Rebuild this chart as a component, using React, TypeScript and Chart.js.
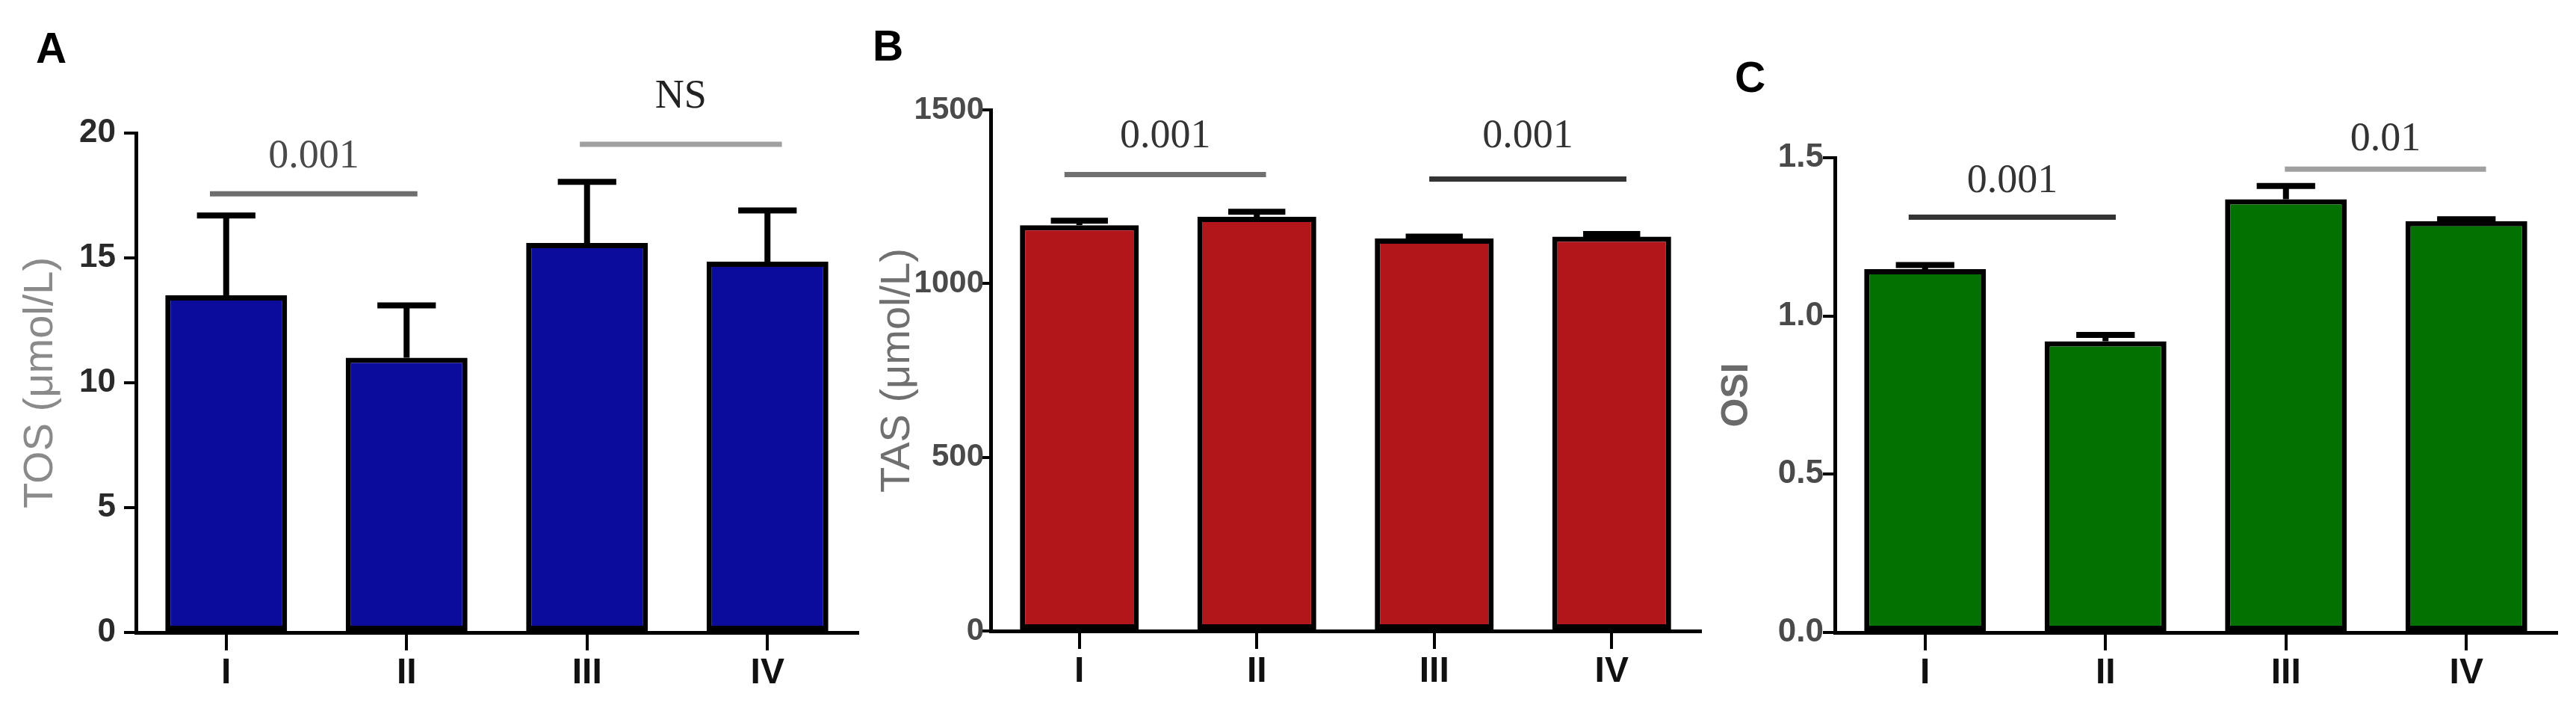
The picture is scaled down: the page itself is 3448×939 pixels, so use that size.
import React, { useEffect, useRef } from 'react';
import { Chart, registerables } from 'chart.js';

Chart.register(...registerables);

// ---------------- data ----------------
const categories = ['I', 'II', 'III', 'IV'];

const tosValues = [13.5, 11.0, 15.6, 14.85];
const tosErrors = [3.2, 2.1, 2.45, 2.05];
const tosTicks = [0, 5, 10, 15, 20];
const tosTickLabels = ['0', '5', '10', '15', '20'];
const tosSigLabels = ['0.001', 'NS'];
const tosSigSpans = [[-0.09, 1.06], [1.96, 3.08]];
const tosSigLevels = [17.57, 19.55];
const tosSigTextLevels = [19.04, 21.44];

const tasValues = [1168, 1192, 1130, 1135];
const tasErrors = [13, 15, 5, 8];
const tasTicks = [0, 500, 1000, 1500];
const tasTickLabels = ['0', '500', '1000', '1500'];
const tasSigLabels = ['0.001', '0.001'];
const tasSigSpans = [[-0.084, 1.052], [1.972, 3.083]];
const tasSigLevels = [1314, 1301];
const tasSigTextLevels = [1422, 1422];

const osiValues = [1.148, 0.92, 1.369, 1.3];
const osiErrors = [0.013, 0.02, 0.042, 0.006];
const osiTicks = [0, 0.5, 1.0, 1.5];
const osiTickLabels = ['0.0', '0.5', '1.0', '1.5'];
const osiSigLabels = ['0.001', '0.01'];
const osiSigSpans = [[-0.091, 1.057], [1.994, 3.109]];
const osiSigLevels = [1.3125, 1.464];
const osiSigTextLevels = [1.426, 1.557];

// ---------------- layout / styles ----------------
const H = 939;
const SANS = '"Liberation Sans", Arial, sans-serif';
const SERIF = '"Liberation Serif", "Times New Roman", serif';

type PanelCfg = {
  letter: string;
  letterPos: [number, number];
  left: number;
  width: number;
  area: { left: number; right: number; top: number; bottom: number };
  values: number[];
  errors: number[];
  ticks: number[];
  tickLabels: string[];
  max: number;
  fill: string;
  title: string;
  titleColor: string;
  titleBold: boolean;
  titleSize: number;
  titlePad: number;
  tickSize: number;
  tickColor: string;
  tickPad: number;
  barPct: number;
  sigLabels: string[];
  sigSpans: number[][];
  sigLevels: number[];
  sigTextLevels: number[];
  sigLineColors: string[];
  sigTextColors: string[];
};

const panels: PanelCfg[] = [
  {
    letter: 'A', letterPos: [48, 84], left: 0, width: 1150,
    area: { left: 182, right: 1148, top: 178, bottom: 846 },
    values: tosValues, errors: tosErrors, ticks: tosTicks, tickLabels: tosTickLabels, max: 20,
    fill: '#0b0b9c', title: 'TOS (μmol/L)', titleColor: '#8a8a8a', titleBold: false, titleSize: 56, titlePad: 27,
    tickSize: 44, tickColor: '#2a2a2a', tickPad: 11, barPct: 0.675,
    sigLabels: tosSigLabels, sigSpans: tosSigSpans, sigLevels: tosSigLevels, sigTextLevels: tosSigTextLevels,
    sigLineColors: ['#6e6e6e', '#a0a0a0'], sigTextColors: ['#4a4a4a', '#222222'],
  },
  {
    letter: 'B', letterPos: [18, 81], left: 1150, width: 1150,
    area: { left: 176, right: 1126, top: 147, bottom: 844 },
    values: tasValues, errors: tasErrors, ticks: tasTicks, tickLabels: tasTickLabels, max: 1500,
    fill: '#b3161a', title: 'TAS (μmol/L)', titleColor: '#707070', titleBold: false, titleSize: 56, titlePad: 24,
    tickSize: 42, tickColor: '#4a4a4a', tickPad: -7, barPct: 0.67,
    sigLabels: tasSigLabels, sigSpans: tasSigSpans, sigLevels: tasSigLevels, sigTextLevels: tasSigTextLevels,
    sigLineColors: ['#707070', '#333333'], sigTextColors: ['#333333', '#333333'],
  },
  {
    letter: 'C', letterPos: [22, 123], left: 2300, width: 1148,
    area: { left: 156, right: 1122, top: 211, bottom: 846 },
    values: osiValues, errors: osiErrors, ticks: osiTicks, tickLabels: osiTickLabels, max: 1.5,
    fill: '#027102', title: 'OSI', titleColor: '#6a6a6a', titleBold: true, titleSize: 50, titlePad: 0,
    tickSize: 44, tickColor: '#4a4a4a', tickPad: -1, barPct: 0.675,
    sigLabels: osiSigLabels, sigSpans: osiSigSpans, sigLevels: osiSigLevels, sigTextLevels: osiSigTextLevels,
    sigLineColors: ['#333333', '#a0a0a0'], sigTextColors: ['#333333', '#333333'],
  },
];

function makeConfig(p: PanelCfg): any {
  const errorBars = {
    id: 'errorBars' + p.letter,
    afterDatasetsDraw(chart: any) {
      const { ctx } = chart;
      const meta = chart.getDatasetMeta(0);
      const y = chart.scales.y;
      ctx.save();
      ctx.strokeStyle = '#000';
      ctx.lineWidth = 8;
      ctx.lineCap = 'butt';
      meta.data.forEach((bar: any, i: number) => {
        const v = p.values[i];
        const e = p.errors[i];
        const x = bar.x;
        const yb = y.getPixelForValue(v);
        const yt = y.getPixelForValue(v + e);
        const cap = bar.width * 0.48;
        ctx.beginPath();
        ctx.moveTo(x, yb);
        ctx.lineTo(x, yt);
        ctx.moveTo(x - cap / 2, yt);
        ctx.lineTo(x + cap / 2, yt);
        ctx.stroke();
      });
      ctx.restore();
    },
  };

  const annotations = {
    id: 'annotations' + p.letter,
    afterDraw(chart: any) {
      const { ctx } = chart;
      const x = chart.scales.x;
      const y = chart.scales.y;
      ctx.save();
      // significance brackets
      p.sigLabels.forEach((label, i) => {
        const [a, b] = p.sigSpans[i];
        const x1 = x.getPixelForValue(a);
        const x2 = x.getPixelForValue(b);
        const ly = y.getPixelForValue(p.sigLevels[i]);
        ctx.strokeStyle = p.sigLineColors[i];
        ctx.lineWidth = 7;
        ctx.beginPath();
        ctx.moveTo(x1, ly);
        ctx.lineTo(x2, ly);
        ctx.stroke();
        ctx.fillStyle = p.sigTextColors[i];
        ctx.font = `54px ${SERIF}`;
        ctx.textAlign = 'center';
        ctx.textBaseline = 'middle';
        ctx.fillText(label, (x1 + x2) / 2, y.getPixelForValue(p.sigTextLevels[i]));
      });
      // panel letter
      ctx.fillStyle = '#000';
      ctx.font = `bold 57px ${SANS}`;
      ctx.textAlign = 'left';
      ctx.textBaseline = 'alphabetic';
      ctx.fillText(p.letter, p.letterPos[0], p.letterPos[1]);
      ctx.restore();
    },
  };

  return {
    type: 'bar',
    data: {
      labels: categories,
      datasets: [
        {
          data: p.values,
          backgroundColor: p.fill,
          borderColor: '#000',
          borderWidth: 7,
          borderSkipped: false,
          barPercentage: p.barPct,
          categoryPercentage: 1,
        },
      ],
    },
    options: {
      responsive: false,
      animation: false,
      devicePixelRatio: 1,
      layout: {
        padding: {
          left: 0,
          top: p.area.top,
          right: p.width - p.area.right,
          bottom: 0,
        },
      },
      plugins: {
        legend: { display: false },
        tooltip: { enabled: false },
        title: { display: false },
      },
      scales: {
        x: {
          type: 'category',
          offset: true,
          grid: {
            display: true,
            drawOnChartArea: false,
            drawTicks: true,
            tickLength: 24,
            color: '#000',
            lineWidth: 4,
            offset: false,
          },
          border: { display: true, color: '#000', width: 5 },
          ticks: {
            color: '#111',
            font: { family: SANS, size: 48, weight: 'bold' },
            padding: 2,
            maxRotation: 0,
            autoSkip: false,
          },
          afterFit(s: any) {
            s.height = H - p.area.bottom;
          },
        },
        y: {
          type: 'linear',
          min: 0,
          max: p.max,
          grid: {
            display: true,
            drawOnChartArea: false,
            drawTicks: true,
            tickLength: 16,
            color: '#000',
            lineWidth: 4,
          },
          border: { display: true, color: '#000', width: 5 },
          ticks: {
            color: p.tickColor,
            font: { family: SANS, size: p.tickSize, weight: 'bold' },
            padding: p.tickPad,
            callback: (_v: any, i: number) => p.tickLabels[i],
          },
          afterBuildTicks(s: any) {
            s.ticks = p.ticks.map((v) => ({ value: v }));
          },
          title: {
            display: true,
            text: p.title,
            color: p.titleColor,
            font: { family: SANS, size: p.titleSize, weight: p.titleBold ? 'bold' : 'normal', lineHeight: 1 },
            padding: { top: p.titlePad, bottom: 0 },
          },
          afterFit(s: any) {
            s.width = p.area.left;
          },
        },
      },
    },
    plugins: [errorBars, annotations],
  };
}

function Panel({ p }: { p: PanelCfg }) {
  const ref = useRef<HTMLCanvasElement>(null);
  useEffect(() => {
    if (!ref.current) return;
    const chart = new Chart(ref.current, makeConfig(p));
    return () => chart.destroy();
  }, [p]);
  return (
    <canvas
      ref={ref}
      width={p.width}
      height={H}
      style={{ position: 'absolute', left: p.left, top: 0, width: p.width, height: H, display: 'block' }}
    />
  );
}

export default function App() {
  useEffect(() => {
    document.body.style.margin = '0';
  }, []);
  return (
    <div style={{ position: 'absolute', left: 0, top: 0, width: 3448, height: H, background: '#fff', overflow: 'hidden' }}>
      {panels.map((p) => (
        <Panel key={p.letter} p={p} />
      ))}
    </div>
  );
}
